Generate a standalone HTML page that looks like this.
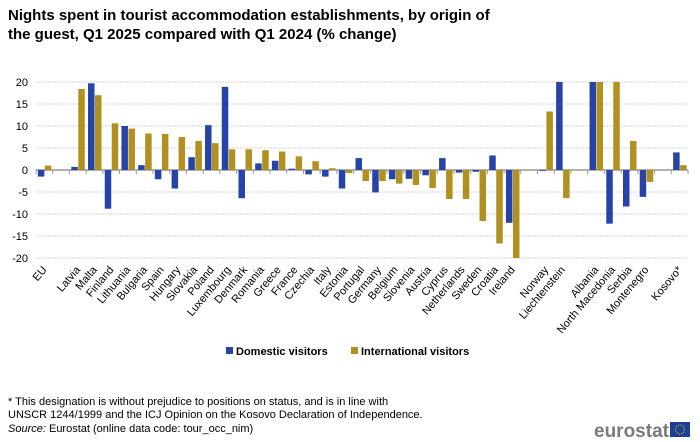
<!DOCTYPE html>
<html><head><meta charset="utf-8"><style>
body{margin:0;background:#fff;font-family:"Liberation Sans",Arial,sans-serif}
svg{display:block}
</style></head><body>
<svg width="700" height="442" viewBox="0 0 700 442" xmlns="http://www.w3.org/2000/svg" font-family="Liberation Sans, Arial, sans-serif">
<text x="8" y="20" font-size="15" font-weight="bold" fill="#000">Nights spent in tourist accommodation establishments, by origin of</text>
<text x="8" y="39" font-size="15" font-weight="bold" fill="#000">the guest, Q1 2025 compared with Q1 2024 (% change)</text>
<g id="grid"></g>
<g id="bars"></g>
<g id="xlabels"></g>
<g>
<rect x="226" y="347" width="7" height="7" fill="#2644a7"/>
<text x="236" y="355" font-size="11" font-weight="bold">Domestic visitors</text>
<rect x="351" y="347" width="7" height="7" fill="#b09120"/>
<text x="361" y="355" font-size="11" font-weight="bold">International visitors</text>
</g>
<text x="8" y="405" font-size="11">* This designation is without prejudice to positions on status, and is in line with</text>
<text x="8" y="418" font-size="11">UNSCR 1244/1999 and the ICJ Opinion on the Kosovo Declaration of Independence.</text>
<text x="8" y="432" font-size="11"><tspan font-style="italic">Source:</tspan> Eurostat (online data code: tour_occ_nim)</text>
<text x="594" y="437" font-size="19" font-weight="bold" fill="#7a7a7a">eurostat</text>
<rect x="670" y="422" width="20" height="15" fill="#1e3f97"/>
<circle cx="680" cy="429.5" r="4.5" fill="none" stroke="#f2d000" stroke-width="1" stroke-dasharray="1 1.4"/>
</svg>
<script>
const categories=["EU","","Latvia","Malta","Finland","Lithuania","Bulgaria","Spain","Hungary","Slovakia","Poland","Luxembourg","Denmark","Romania","Greece","France","Czechia","Italy","Estonia","Portugal","Germany","Belgium","Slovenia","Austria","Cyprus","Netherlands","Sweden","Croatia","Ireland","","Norway","Liechtenstein","","Albania","North Macedonia","Serbia","Montenegro","","Kosovo*"];
const domestic=[-1.5,null,0.7,19.7,-8.8,10.0,1.1,-2.1,-4.2,2.9,10.2,18.9,-6.4,1.5,2.1,0.3,-1.0,-1.5,-4.2,2.7,-5.1,-2.1,-2.0,-1.2,2.7,-0.6,-0.4,3.3,-12.0,null,-0.2,20,null,20,-12.2,-8.3,-6.1,null,4.0];
const international=[1.0,null,18.4,17.0,10.6,9.4,8.3,8.2,7.5,6.6,6.1,4.7,4.7,4.5,4.2,3.1,2.0,0.4,-0.7,-2.5,-2.5,-3.1,-3.4,-4.1,-6.6,-6.6,-11.6,-16.7,-20,null,13.3,-6.4,null,20,20,6.6,-2.7,null,1.1];
const yTicks=[20,15,10,5,0,-5,-10,-15,-20];
const NS="http://www.w3.org/2000/svg";
const x0=36,x1=688,y0=170,ppu=4.4;
const slot=(x1-x0)/categories.length;
const y=v=>y0-v*ppu;
const cx=i=>x0+slot*(i+0.5);
function mk(tag,attrs,parent){const e=document.createElementNS(NS,tag);for(const k in attrs)e.setAttribute(k,attrs[k]);parent.appendChild(e);return e;}
const grid=document.getElementById('grid'),bars=document.getElementById('bars'),xl=document.getElementById('xlabels');
yTicks.forEach(t=>{
  const l=mk('line',{x1:x0,x2:x1,y1:y(t),y2:y(t),stroke:t===0?'#999':'#d0d0d0','stroke-width':t===0?1.5:1,'stroke-dasharray':t===0?'':'2 1'},grid);
  
  
  const tx=mk('text',{x:28,y:y(t)+4,'font-size':11,'text-anchor':'end',fill:'#000'},grid);
  tx.textContent=t;
  
  
});
for(let i=0;i<=categories.length;i++){
  const tk=mk('line',{x1:x0+slot*i,x2:x0+slot*i,y1:y0,y2:y0+4,stroke:'#999'},grid);
  
  
}
const bw=6.5;
categories.forEach((c,i)=>{
  [[domestic,'#2644a7',-bw,'domestic'],[international,'#b09120',0.5,'international']].forEach(([arr,col,off,nm])=>{
    const v=arr[i]; if(v===null)return;
    const r=mk('rect',{x:cx(i)+off,y:Math.min(y(v),y0),width:bw,height:Math.max(Math.abs(y(v)-y0),0.5),fill:col},bars);
    
    
  });
  if(c){
    const t=mk('text',{x:cx(i)+3,y:y0+100,'font-size':11,'text-anchor':'end',transform:`rotate(-55 ${cx(i)+3} ${y0+100})`},xl);
    t.setAttribute('x',cx(i)+3);t.setAttribute('y',y0+100);
    t.setAttribute('transform',`rotate(-50 ${cx(i)+3} 270)`);
    t.setAttribute('y',270);
    t.textContent=c;
    
    
  }
});
</script>
</body></html>
